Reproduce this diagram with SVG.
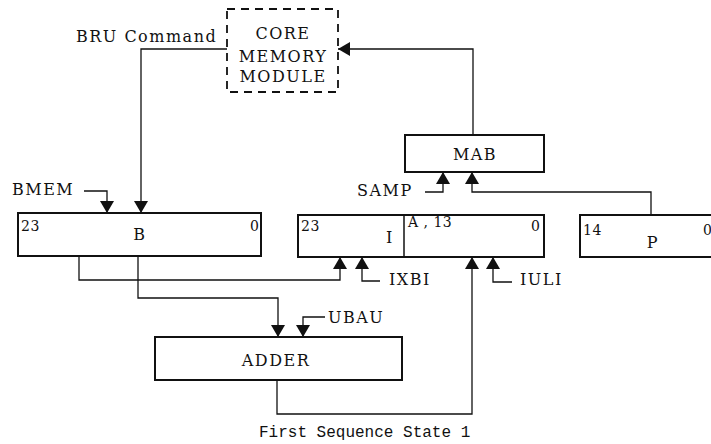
<svg xmlns="http://www.w3.org/2000/svg" width="711" height="444" viewBox="0 0 711 444">
  <style>
    .box { fill: #fff; stroke: #111; stroke-width: 2; }
    .dash { fill: #fff; stroke: #111; stroke-width: 1.8; stroke-dasharray: 8 6; }
    .wire { fill: none; stroke: #111; stroke-width: 1.3; }
    .lbl { font-family: "DejaVu Serif", "Liberation Serif", serif; font-size: 16px; letter-spacing: 1.5px; fill: #111; }
    .num { font-family: "DejaVu Serif", "Liberation Serif", serif; font-size: 14px; letter-spacing: 0.5px; fill: #111; }
    .mid { text-anchor: middle; }
    .cap { font-family: "Liberation Mono", "DejaVu Sans Mono", monospace; font-size: 16px; fill: #111; }
  </style>
  <defs>
    <marker id="arrow" markerUnits="userSpaceOnUse" viewBox="0 0 12 14" markerWidth="12" markerHeight="14" refX="12" refY="7" orient="auto">
      <path d="M0,0 L12,7 L0,14 z" fill="#111"/>
    </marker>
  </defs>

  <rect width="711" height="444" fill="#fff"/>

  <!-- signal paths -->
  <g id="connectors" class="wire" marker-end="url(#arrow)">
    <path d="M227,49 H141 V213"/>
    <path d="M473,135 V49 H338"/>
    <path d="M84,191 H107 V213"/>
    <path d="M425,192 H443 V172"/>
    <path d="M651,215 V192 H472 V172"/>
    <path d="M79,256 V280 H340 V257"/>
    <path d="M380,281 H362 V257"/>
    <path d="M138,256 V298 H278 V337"/>
    <path d="M325,317 H303 V337"/>
    <path d="M277,380 V414 H472 V257"/>
    <path d="M512,282 H493 V257"/>
  </g>

  <g id="core-memory">
    <rect class="dash" x="227" y="9" width="111" height="83"/>
    <text class="lbl mid" x="283" y="39">CORE</text>
    <text class="lbl mid" x="283" y="62">MEMORY</text>
    <text class="lbl mid" x="283" y="82">MODULE</text>
  </g>

  <g id="mab">
    <rect class="box" x="405" y="135" width="139" height="37"/>
    <text class="lbl mid" x="475" y="160">MAB</text>
  </g>

  <g id="reg-b">
    <rect class="box" x="18" y="213" width="243" height="43"/>
    <text class="num" x="21" y="231">23</text>
    <text class="lbl mid" x="140" y="240">B</text>
    <text class="num" x="250" y="231">0</text>
  </g>

  <g id="reg-i">
    <rect class="box" x="298" y="215" width="246" height="42"/>
    <line x1="404" y1="215" x2="404" y2="257" stroke="#111" stroke-width="1.5"/>
    <text class="num" x="301" y="231">23</text>
    <text class="lbl mid" x="390" y="243">I</text>
    <text class="num" x="408" y="227">A , 13</text>
    <text class="num" x="531" y="231">0</text>
  </g>

  <g id="reg-p">
    <rect class="box" x="580" y="215" width="140" height="42"/>
    <text class="num" x="583" y="235">14</text>
    <text class="lbl mid" x="653" y="248">P</text>
    <text class="num" x="703" y="235">0</text>
  </g>

  <g id="adder">
    <rect class="box" x="155" y="337" width="247" height="43"/>
    <text class="lbl mid" x="276" y="366">ADDER</text>
  </g>

  <g id="labels">
    <text class="lbl" x="76" y="42">BRU Command</text>
    <text class="lbl" x="12" y="195">BMEM</text>
    <text class="lbl" x="357" y="196">SAMP</text>
    <text class="lbl" x="389" y="285">IXBI</text>
    <text class="lbl" x="520" y="285">IULI</text>
    <text class="lbl" x="328" y="323">UBAU</text>
    <text class="cap" x="259" y="437">First Sequence State 1</text>
  </g>
</svg>
